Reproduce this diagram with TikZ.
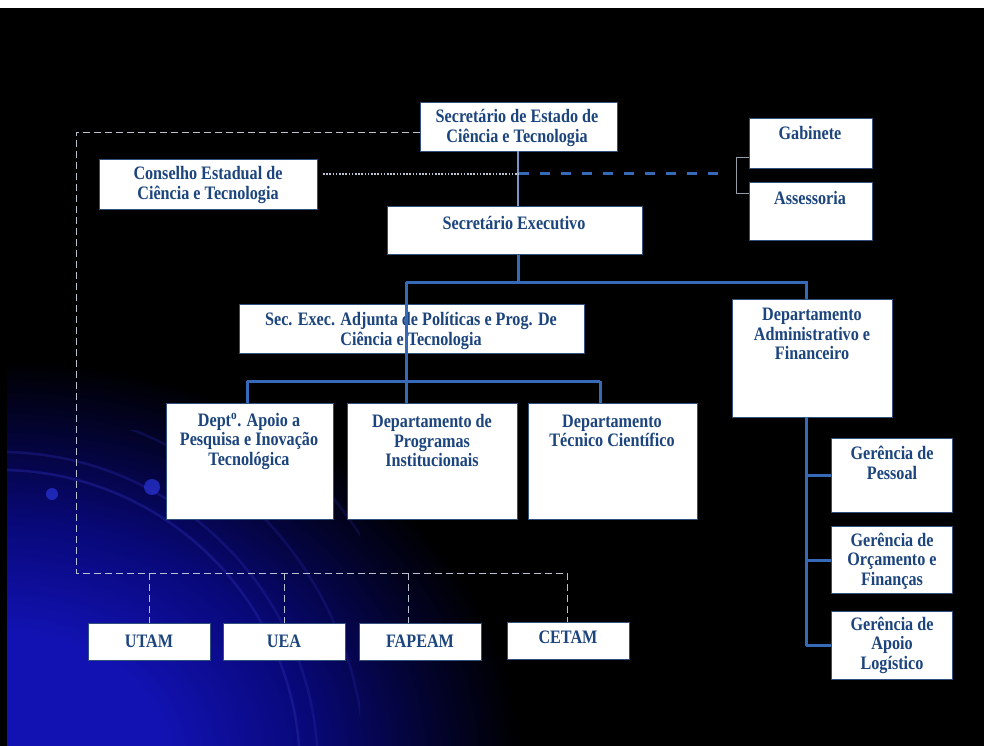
\documentclass[tikz,border=0pt]{standalone}
\usepackage{fontspec}
\setmainfont{Liberation Serif}
\newfontfamily\boxfont[FakeStretch=0.85]{Liberation Serif}
\usetikzlibrary{calc}
\definecolor{txtblue}{RGB}{28,68,125}
\definecolor{lineblue}{RGB}{55,105,185}
\definecolor{thinblue}{RGB}{120,150,200}
\definecolor{boxedge}{RGB}{50,80,125}
\definecolor{dashgray}{RGB}{185,195,210}
\definecolor{glowA}{RGB}{18,18,178}
\definecolor{glowB}{RGB}{8,8,120}
\definecolor{glowC}{RGB}{3,3,45}
\definecolor{arcblue}{RGB}{35,35,160}
\definecolor{dotblue}{RGB}{40,50,210}
\pgfdeclareradialshading{glow}{\pgfpointorigin}{color(0bp)=(glowA); color(8bp)=(glowA); color(15bp)=(glowB); color(21bp)=(glowC); color(25bp)=(black); color(50bp)=(black)}
\tikzset{
  box/.style={draw=boxedge, line width=1.2pt, fill=white, inner sep=0pt, anchor=north west},
  txt/.style={text=txtblue, font=\boxfont\bfseries\fontsize{19}{19.5}\selectfont, align=center, inner sep=0pt},
  conn/.style={draw=lineblue, line width=3pt},
  thinconn/.style={draw=thinblue, line width=1.2pt},
  framedash/.style={draw=dashgray, line width=0.9pt, dash pattern=on 7pt off 4pt},
  dotline/.style={draw=dashgray, line width=1.6pt, dash pattern=on 1.6pt off 1.6pt},
  bigdash/.style={draw=lineblue, line width=3pt, dash pattern=on 10pt off 11pt},
  brk/.style={draw=dashgray!80!black, line width=0.9pt},
}
% \orgbox{name}{x1}{y1}{x2}{y2}
\newcommand{\orgbox}[5]{\node[box, minimum width=#4-#2, minimum height=#5-#3] (#1) at (#2,#3) {};}
\begin{document}
\begin{tikzpicture}[x=1pt,y=-1pt]
\useasboundingbox (0,0) rectangle (984,746);
\fill[white] (0,0) rectangle (984,746);
\fill[black] (0,8) rectangle (984,746);
\begin{scope}
  \clip (7,8) rectangle (984,746);
  \shade[shading=glow] (0,760) ellipse [x radius=520, y radius=400];
  \begin{scope}
    \clip (0,430) rectangle (360,746);
    \foreach \r/\o in {300/0.5,318/0.4,365/0.3,430/0.25}{
      \draw[arcblue, line width=2.5pt, opacity=\o] (0,770) circle[radius=\r];
    }
  \end{scope}
  \fill[dotblue, opacity=0.75] (52,494) circle[radius=6];
  \fill[dotblue, opacity=0.75] (152,487) circle[radius=8];
\end{scope}

% boxes
\orgbox{se}{420}{102}{617}{151}
\orgbox{cs}{99}{159}{317}{209}
\orgbox{gb}{749}{118}{872}{168}
\orgbox{as}{749}{182}{872}{240}
\orgbox{sx}{387}{206}{642}{254}
\orgbox{sa}{239}{304}{584}{353}
\orgbox{ap}{166}{403}{333}{519}
\orgbox{dp}{347}{403}{517}{519}
\orgbox{dt}{528}{403}{697}{519}
\orgbox{da}{732}{299}{892}{417}
\orgbox{gp}{831}{438}{952}{512}
\orgbox{go}{831}{526}{952}{593}
\orgbox{gl}{831}{611}{952}{679}
\orgbox{ut}{88}{623}{210}{660}
\orgbox{ue}{223}{623}{345}{660}
\orgbox{fa}{359}{623}{481}{660}
\orgbox{ce}{507}{622}{629}{659}

% texts
\node[txt] (tse) at (517,128) {Secretário de Estado de\\Ciência e Tecnologia};
\node[txt] (tcs) at (208,185) {Conselho Estadual de\\Ciência e Tecnologia};
\node[txt] (tgb) at (810,133) {Gabinete};
\node[txt] (tas) at (810,198) {Assessoria};
\node[txt] (tsx) at (514,223) {Secretário Executivo};
\node[txt] (tsa) at (411,331) {Sec. Exec. Adjunta de Políticas e Prog. De\\Ciência e Tecnologia};
\node[txt] (tap) at (249,441) {Dept\textsuperscript{o}. Apoio a\\Pesquisa e Inovação\\Tecnológica};
\node[txt] (tdp) at (432,441) {Departamento de\\Programas\\Institucionais};
\node[txt] (tdt) at (612,431) {Departamento\\Técnico Científico};
\node[txt] (tda) at (812,334) {Departamento\\Administrativo e\\Financeiro};
\node[txt] (tgp) at (892,463) {Gerência de\\Pessoal};
\node[txt] (tgo) at (892,561) {Gerência de\\Orçamento e\\Finanças};
\node[txt] (tgl) at (892,645) {Gerência de\\Apoio\\Logístico};
\node[txt] (tut) at (149,641) {UTAM};
\node[txt] (tue) at (284,641) {UEA};
\node[txt] (tfa) at (420,641) {FAPEAM};
\node[txt] (tce) at (568,637) {CETAM};

% coordinates
\coordinate (v0) at (518,151);
\coordinate (j1) at (406,282);
\coordinate (j2) at (806,282);
\coordinate (j3) at (247,381);
\coordinate (j4) at (600,381);
\coordinate (j5) at (406,381);
\coordinate (k0) at (806,417);
\coordinate (d0) at (323,174);
\coordinate (d1) at (519,174);
\coordinate (d2) at (725,174);
\coordinate (b1) at (736,157);
\coordinate (b2) at (736,193);
\coordinate (f1) at (76,132);
\coordinate (f2) at (76,573);
\coordinate (f3) at (567,573);
\coordinate (t1) at (149,573);
\coordinate (t2) at (284,573);
\coordinate (t3) at (408,573);

% solid connectors
\draw[thinconn] (v0) -- (v0 |- sx.north);
\draw[conn] (v0 |- sx.south) -- (v0 |- j1);
\draw[conn] (j1) -- (j2) -- (j2 |- da.north);
\draw[conn] (j1) -- (j5);
\draw[conn] (j3) -- (j4);
\draw[conn] (j3) -- (j3 |- ap.north);
\draw[conn] (j5) -- (j5 |- dp.north);
\draw[conn] (j4) -- (j4 |- dt.north);
\draw[conn] (k0) -- (k0 |- gl.west);
\draw[conn] (k0 |- gp.west) -- (gp.west);
\draw[conn] (k0 |- go.west) -- (go.west);
\draw[conn] (k0 |- gl.west) -- (gl.west);

% dotted / dashed links
\draw[dotline] (d0) -- (d1);
\draw[bigdash] (d1) -- (d2);
\draw[brk] (gb.west |- b1) -- (b1) -- (b2) -- (as.west |- b2);
\draw[framedash] (se.west |- f1) -- (f1) -- (f2) -- (f3) -- (f3 |- ce.north);
\draw[framedash] (t1) -- (t1 |- ut.north);
\draw[framedash] (t2) -- (t2 |- ue.north);
\draw[framedash] (t3) -- (t3 |- fa.north);
\end{tikzpicture}
\end{document}
